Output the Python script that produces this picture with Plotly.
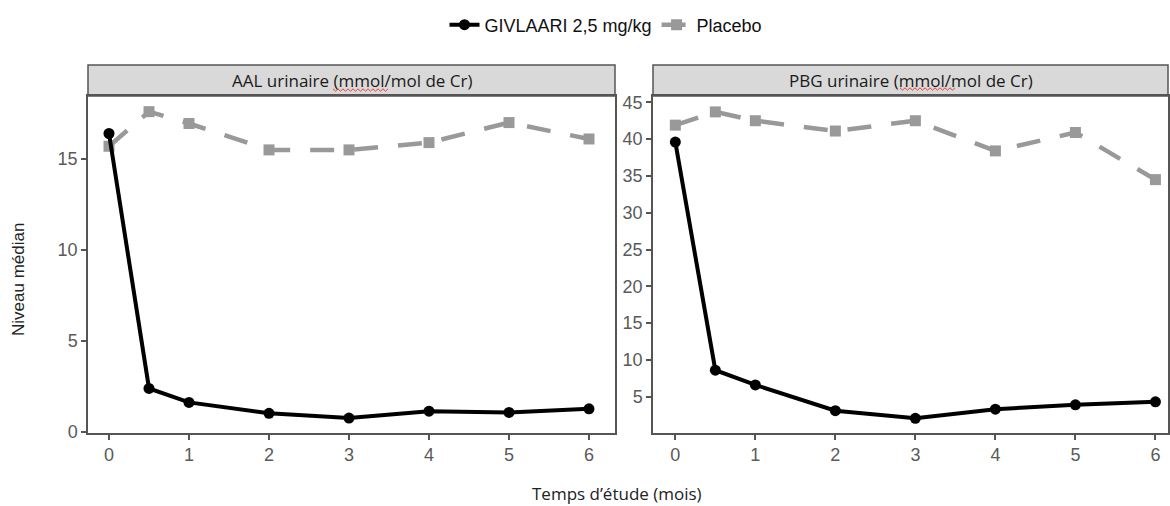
import plotly.graph_objects as go

months = [0, 0.5, 1, 2, 3, 4, 5, 6]
aal_givlaari = [16.4, 2.4, 1.63, 1.03, 0.77, 1.15, 1.08, 1.28]
aal_placebo = [15.7, 17.6, 16.95, 15.5, 15.5, 15.9, 17.0, 16.1]
pbg_givlaari = [39.6, 8.6, 6.6, 3.1, 2.06, 3.3, 3.9, 4.3]
pbg_placebo = [41.9, 43.7, 42.5, 41.1, 42.5, 38.4, 40.9, 34.5]
x_ticks = [0, 1, 2, 3, 4, 5, 6]
aal_y_ticks = [0, 5, 10, 15]
pbg_y_ticks = [5, 10, 15, 20, 25, 30, 35, 40, 45]
panel_titles = ["AAL urinaire (mmol/mol de Cr)", "PBG urinaire (mmol/mol de Cr)"]
series_names = ["GIVLAARI 2,5 mg/kg", "Placebo"]

W, H = 1170, 506
BLACK = "#000000"
GRAY = "#999999"
AX = "#555555"

def px(x):
    return x / W

def py(y):
    return 1 - y / H

fig = go.Figure()

def add_pair(giv, pla, xa, ya, show):
    fig.add_trace(go.Scatter(
        x=months, y=pla, mode="lines+markers", name=series_names[1],
        line=dict(color=GRAY, width=4.5, dash="24px,20px"),
        marker=dict(symbol="square", size=11, color=GRAY),
        xaxis=xa, yaxis=ya, showlegend=show, legendrank=2))
    fig.add_trace(go.Scatter(
        x=months, y=giv, mode="lines+markers", name=series_names[0],
        line=dict(color=BLACK, width=4),
        marker=dict(symbol="circle", size=11, color=BLACK),
        xaxis=xa, yaxis=ya, showlegend=show, legendrank=1))

add_pair(aal_givlaari, aal_placebo, "x", "y", True)
add_pair(pbg_givlaari, pbg_placebo, "x2", "y2", False)

tickfont = dict(family="Liberation Sans, Arial", size=18, color="#5a5a5a")
common_x = dict(tickvals=x_ticks, ticks="outside", ticklen=5, tickwidth=1.5, tickcolor=AX,
                showline=True, mirror=True, linecolor=AX, linewidth=1.5,
                showgrid=False, zeroline=False, tickfont=tickfont, automargin=False)
common_y = dict(ticks="outside", ticklen=5, tickwidth=1.5, tickcolor=AX,
                showline=True, mirror=True, linecolor=AX, linewidth=1.5,
                showgrid=False, zeroline=False, tickfont=tickfont, automargin=False)

y_dom = [py(433), py(96)]
fig.update_layout(
    width=W, height=H,
    margin=dict(l=0, r=0, t=0, b=0),
    paper_bgcolor="white", plot_bgcolor="white",
    xaxis=dict(domain=[px(88), px(615)], range=[-0.2625, 6.325], anchor="y", **common_x),
    yaxis=dict(domain=y_dom, range=[-0.05, 18.46], tickvals=aal_y_ticks, anchor="x", **common_y),
    xaxis2=dict(domain=[px(653), px(1168)], range=[-0.279, 6.157], anchor="y2", **common_x),
    yaxis2=dict(domain=y_dom, range=[0.07, 45.86], tickvals=pbg_y_ticks, anchor="x2", **common_y),
    legend=dict(orientation="h", x=px(606), xanchor="center", y=py(25), yanchor="middle",
                font=dict(family="Liberation Sans, Arial", size=18, color="#111111"),
                traceorder="normal", itemwidth=30),
    showlegend=True,
)

strips = [(88, 615), (653, 1168)]
for (x0, x1), title in zip(strips, panel_titles):
    fig.add_shape(type="rect", xref="paper", yref="paper",
                  x0=px(x0), x1=px(x1), y0=py(96), y1=py(65),
                  fillcolor="#d9d9d9", line=dict(color=AX, width=1.5), layer="below")
    fig.add_annotation(text=title, xref="paper", yref="paper",
                       x=px((x0 + x1) / 2), y=py(80.5), xanchor="center", yanchor="middle",
                       showarrow=False, font=dict(family="Open Sans", size=17, color="#1a1a1a"))

# red spell-check squiggles under "mmol"
def squiggle(xs, xe, y):
    pts = []
    step = 2.5
    i = 0
    x = xs
    while x <= xe:
        yy = y + (1.2 if i % 2 else -1.2)
        pts.append((x, yy))
        x += step
        i += 1
    d = "M " + " L ".join(f"{px(a):.5f},{py(b):.5f}" for a, b in pts)
    fig.add_shape(type="path", xref="paper", yref="paper", path=d,
                  line=dict(color="#e8403a", width=1))

squiggle(333, 388, 90)
squiggle(900, 955, 89)

fig.add_annotation(text="Niveau médian", xref="paper", yref="paper",
                   x=px(18), y=py(280), textangle=-90, showarrow=False,
                   xanchor="center", yanchor="middle",
                   font=dict(family="Liberation Sans, Arial", size=17, color="#222222"))
fig.add_annotation(text="Temps d’étude (mois)", xref="paper", yref="paper",
                   x=px(530), y=py(493), showarrow=False,
                   xanchor="left", yanchor="middle",
                   font=dict(family="Open Sans", size=17, color="#222222"))

fig.write_html("out.html",
               config={"displayModeBar": False},
               post_script="document.body.style.margin='0px';document.body.style.padding='0px';")
